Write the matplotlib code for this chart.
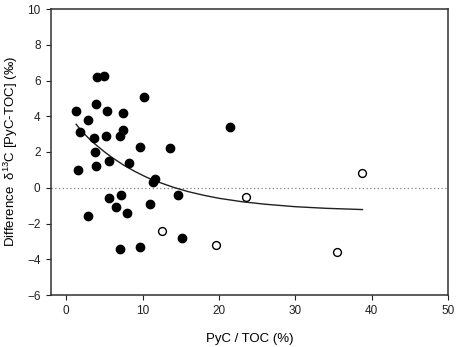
import matplotlib
matplotlib.use('Agg')
import matplotlib.pyplot as plt

plt.rcParams['font.family'] = ['Liberation Sans', 'DejaVu Sans']
plt.rcParams['mathtext.fontset'] = 'custom'
plt.rcParams['mathtext.rm'] = 'Liberation Sans'
plt.rcParams['mathtext.it'] = 'Liberation Sans'
plt.rcParams['mathtext.default'] = 'regular'

# filled circles
pyc_filled = [1.3, 1.8, 1.6, 2.8, 2.9, 4.0, 5.0, 3.9, 3.6, 3.7, 3.9, 5.3, 5.2,
              5.6, 5.6, 6.5, 7.2, 8.0, 7.0, 7.0, 7.4, 7.4, 8.2, 9.7, 10.2, 9.6,
              11.0, 11.6, 11.4, 13.6, 14.7, 15.1, 21.4]
diff_filled = [4.3, 3.1, 1.0, 3.8, -1.6, 6.2, 6.25, 4.7, 2.8, 2.0, 1.2, 4.3, 2.9,
               1.5, -0.6, -1.1, -0.4, -1.4, -3.4, 2.9, 3.25, 4.2, 1.4, 2.3, 5.1, -3.3,
               -0.9, 0.5, 0.3, 2.2, -0.4, -2.8, 3.4]

# open circles
pyc_open = [12.6, 19.6, 23.6, 35.5, 38.8]
diff_open = [-2.4, -3.2, -0.5, -3.6, 0.8]

# fitted curve
curve_x = [1.3, 2, 3, 4, 5, 6, 7.5, 9, 10.5, 12, 14, 16, 18, 20, 23, 26, 30, 34, 38.8]
curve_y = [3.55, 3.17, 2.74, 2.36, 2.01, 1.69, 1.27, 0.91, 0.59, 0.33, 0.03, -0.22,
           -0.42, -0.59, -0.78, -0.92, -1.06, -1.15, -1.22]

xticks = [0, 10, 20, 30, 40, 50]
yticks = [-6, -4, -2, 0, 2, 4, 6, 8, 10]

fig = plt.figure(figsize=(4.59, 3.47), dpi=100)
ax = fig.add_axes([51 / 459, 52 / 347, 397 / 459, 286 / 347])

ax.axhline(0, color='#808080', linestyle=(0, (1, 2)), linewidth=0.9, zorder=1)
ax.plot(curve_x, curve_y, color='#202020', linewidth=1.0, zorder=2)
ax.scatter(pyc_filled, diff_filled, s=36, color='black', zorder=3)
ax.scatter(pyc_open, diff_open, s=32, facecolor='white', edgecolor='black',
           linewidth=1.0, zorder=3)

ax.set_xlim(-2, 50)
ax.set_ylim(-6, 10)
ax.set_xticks(xticks)
ax.set_yticks(yticks)
ax.tick_params(direction='out', length=3.5, width=0.8, labelsize=8.5, pad=4,
               colors='#202020')
for sp in ax.spines.values():
    sp.set_linewidth(1.1)
    sp.set_color('#303030')

ax.set_xlabel('PyC / TOC (%)', fontsize=9.5, labelpad=11)
ax.set_ylabel(r'Difference  $\delta^{13}$C [PyC-TOC] (‰)', fontsize=9.5, labelpad=5)

fig.savefig('out.png', dpi=100)
